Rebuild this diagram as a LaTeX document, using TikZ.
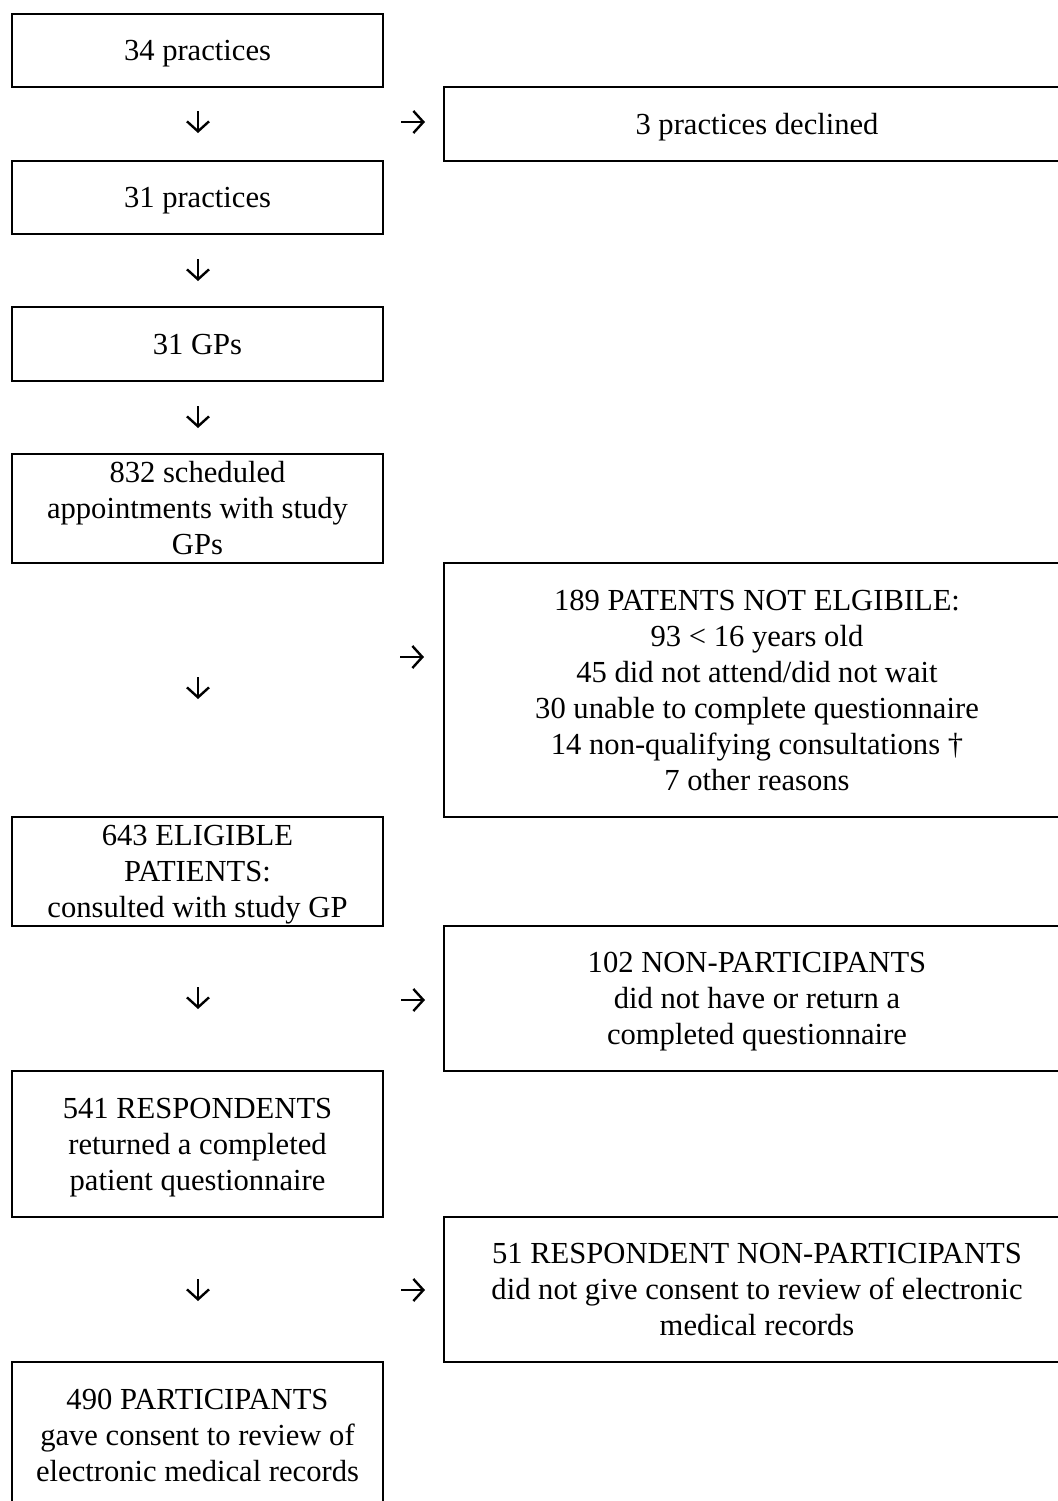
\documentclass[tikz,border=0pt]{standalone}
\usepackage{fontspec}
\setmainfont{Liberation Serif}
\usetikzlibrary{arrows.meta}
\newcommand{\flowtext}[1]{\begin{tabular}[t]{@{}c@{}}#1\end{tabular}}
\begin{document}
\begin{tikzpicture}[x=0.5pt,y=-0.5pt,
  box/.style={draw,line width=1pt,inner sep=0pt,font=\fontsize{15.3}{18}\selectfont,text height=10pt},
  oneline/.style={text depth=0pt},
  threelines/.style={text depth=36pt},
  sixlines/.style={text depth=90pt},
  lbox/.style={box,minimum width=185.5pt},
  rbox/.style={box,minimum width=313pt},
  flow/.style={line width=1.2pt,-{Straight Barb[length=5pt,width=11pt,line width=1.2pt]}}]
\useasboundingbox (0,0) rectangle (1057,1501);
% left column
\node[lbox,oneline,minimum height=36.5pt] (b1) at (197.5,50.5) {\flowtext{34 practices}};
\node[lbox,oneline,minimum height=36.5pt] (b2) at (197.5,197.5) {\flowtext{31 practices}};
\node[lbox,oneline,minimum height=37pt] (b3) at (197.5,344) {\flowtext{31 GPs}};
\node[lbox,threelines,minimum height=54.5pt] (b4) at (197.5,508.5) {\flowtext{832 scheduled\\appointments with study\\GPs}};
\node[lbox,threelines,minimum height=54.5pt] (b5) at (197.5,871.5) {\flowtext{643 ELIGIBLE\\PATIENTS:\\consulted with study GP}};
\node[lbox,threelines,minimum height=73pt] (b6) at (197.5,1144) {\flowtext{541 RESPONDENTS\\returned a completed\\patient questionnaire}};
\node[lbox,threelines,minimum height=73pt] (b7) at (197.5,1435) {\flowtext{490 PARTICIPANTS\\gave consent to review of\\electronic medical records}};
% right column
\node[rbox,oneline,minimum height=37pt] (r1) at (757,124) {\flowtext{3 practices declined}};
\node[rbox,sixlines,minimum height=127pt] (r2) at (757,690) {\flowtext{189 PATENTS NOT ELGIBILE:\\93 < 16 years old\\45 did not attend/did not wait\\30 unable to complete questionnaire\\14 non-qualifying consultations †\\7 other reasons}};
\node[rbox,threelines,minimum height=72.5pt] (r3) at (757,998.5) {\flowtext{102 NON-PARTICIPANTS\\did not have or return a\\completed questionnaire}};
\node[rbox,threelines,minimum height=72.5pt] (r4) at (757,1289.5) {\flowtext{51 RESPONDENT NON-PARTICIPANTS\\did not give consent to review of electronic\\medical records}};
% down arrows
\coordinate (d1s) at (198,111);  \coordinate (d1e) at (198,133);
\coordinate (d2s) at (198,259);  \coordinate (d2e) at (198,281);
\coordinate (d3s) at (198,406);  \coordinate (d3e) at (198,428);
\coordinate (d4s) at (198,677);  \coordinate (d4e) at (198,699);
\coordinate (d5s) at (198,987);  \coordinate (d5e) at (198,1009);
\coordinate (d6s) at (198,1279); \coordinate (d6e) at (198,1301);
\draw[flow] (d1s) -- (d1e);
\draw[flow] (d2s) -- (d2e);
\draw[flow] (d3s) -- (d3e);
\draw[flow] (d4s) -- (d4e);
\draw[flow] (d5s) -- (d5e);
\draw[flow] (d6s) -- (d6e);
% right arrows
\coordinate (h1s) at (401,122);  \coordinate (h1e) at (425,122);
\coordinate (h2s) at (400,657);  \coordinate (h2e) at (424,657);
\coordinate (h3s) at (401,1000); \coordinate (h3e) at (425,1000);
\coordinate (h4s) at (401,1290); \coordinate (h4e) at (425,1290);
\draw[flow] (h1s) -- (h1e);
\draw[flow] (h2s) -- (h2e);
\draw[flow] (h3s) -- (h3e);
\draw[flow] (h4s) -- (h4e);
\end{tikzpicture}
\end{document}
